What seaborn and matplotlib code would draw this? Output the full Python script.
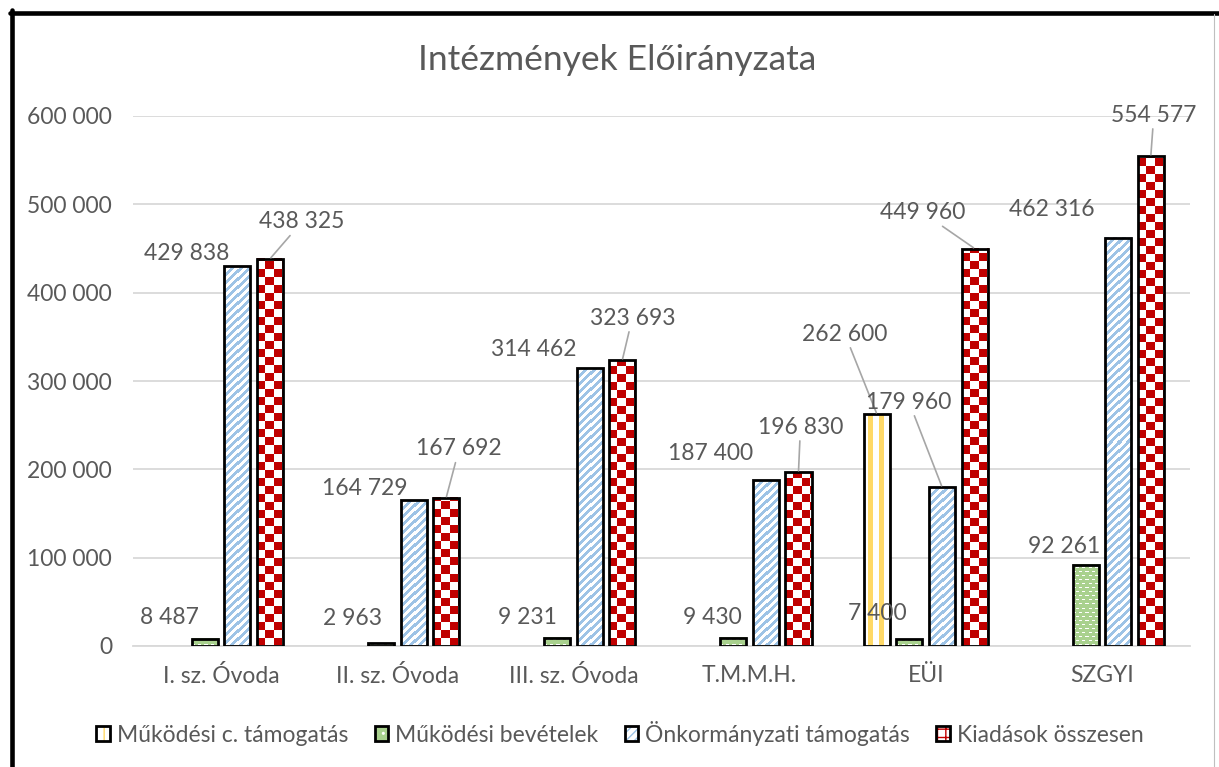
import numpy as np
import pandas as pd
import matplotlib
matplotlib.use("Agg")
import matplotlib.pyplot as plt
import seaborn as sns
from matplotlib.patches import Patch
from matplotlib.lines import Line2D
from matplotlib.colors import to_rgb

# ---------------- data ----------------
categories = ["I. sz. Óvoda", "II. sz. Óvoda", "III. sz. Óvoda", "T.M.M.H.", "EÜI", "SZGYI"]
series = ["Működési c. támogatás", "Működési bevételek", "Önkormányzati támogatás", "Kiadások összesen"]
mukodesi_c_tamogatas = [np.nan, np.nan, np.nan, np.nan, 262600, np.nan]
mukodesi_bevetelek = [8487, 2963, 9231, 9430, 7400, 92261]
onkormanyzati_tamogatas = [429838, 164729, 314462, 187400, 179960, 462316]
kiadasok_osszesen = [438325, 167692, 323693, 196830, 449960, 554577]
y_ticks = [0, 100000, 200000, 300000, 400000, 500000, 600000]
title = "Intézmények Előirányzata"

# ---------------- styles ----------------
colors = ["#FFD966", "#A9D18E", "#9DC3E6", "#C00000"]
text_color = "#595959"
grid_color = "#D9D9D9"
fs = 16.5
# label offsets in pixels (dx, dy, leader line) per series / category
label_pos = [
    [None, None, None, None, (-32, 80, True), None],
    [(-35, 21, False), (-28, 25, False), (-30, 20, False), (-21, 20, False), (-32, 26, False), (-21, 18, False)],
    [(-51, 13, False), (-49, 12, False), (-56, 19, False), (-55, 27, False), (-33, 85, True), (-66, 28, False)],
    [(32, 37, True), (13, 49, True), (10, 42, True), (2, 45, True), (-52, 36, True), (3, 41, True)],
]

sns.set_style("white")
plt.rcParams["font.family"] = ["Lato", "DejaVu Sans"]

values = [mukodesi_c_tamogatas, mukodesi_bevetelek, onkormanyzati_tamogatas, kiadasok_osszesen]
rows = []
for s, vals in zip(series, values):
    for c, v in zip(categories, vals):
        if not (isinstance(v, float) and np.isnan(v)):
            rows.append({"cat": c, "ser": s, "val": v})
df = pd.DataFrame(rows)

W, H = 1219, 767
fig = plt.figure(figsize=(W / 100, H / 100), dpi=100)
ax = fig.add_axes([133 / W, 1 - 646 / H, (1190 - 133) / W, (646 - 116) / H])

group_width = 0.74
sns.barplot(data=df, x="cat", y="val", hue="ser", order=categories, hue_order=series,
            palette=colors, width=group_width, gap=0.2, dodge=True, legend=False,
            saturation=1, errorbar=None, ax=ax)

ax.set_xlim(-0.5, len(categories) - 0.5)
ax.set_ylim(0, 600000)


def fmt(v):
    return f"{int(v):,}".replace(",", " ")


def texture(kind, w, h):
    yy, xx = np.mgrid[0:h, 0:w]
    yb = h - 1 - yy
    img = np.ones((h, w, 3))
    if kind == 0:
        mask = ((xx + 6) % 10) < 5
        img[mask] = to_rgb(colors[0])
    elif kind == 1:
        img[:] = to_rgb(colors[1])
        mask = (yb % 4 == 1) & (((xx + 3 * ((yb // 4) % 2)) % 6) < 3)
        img[mask] = (1, 1, 1)
    elif kind == 2:
        mask = ((xx + yy) % 8) < 4
        img[mask] = to_rgb(colors[2])
    else:
        mask = ((xx // 8 + yb // 8) % 2) == 0
        img[mask] = to_rgb(colors[3])
    return img


slot = group_width / len(series)
bars = [p for p in ax.patches]
for p in bars:
    x0 = p.get_x()
    w = p.get_width()
    h = p.get_height()
    if not np.isfinite(h) or h <= 0:
        continue
    xc = x0 + w / 2
    ci = int(round(xc))
    si = int(round((xc - ci) / slot + (len(series) - 1) / 2))
    disp = ax.transData.transform([[x0, 0], [x0 + w, h]])
    pw = max(1, int(round(disp[1, 0] - disp[0, 0])))
    ph = max(1, int(round(disp[1, 1] - disp[0, 1])))
    ax.imshow(texture(si, pw, ph), extent=(x0, x0 + w, 0, h), origin="upper",
              aspect="auto", interpolation="nearest", zorder=2)
    p.set_facecolor("none")
    p.set_edgecolor("black")
    p.set_linewidth(2.0)
    p.set_zorder(3)
    lp = label_pos[si][ci]
    if lp is not None:
        dx, dy, leader = lp
        kw = {}
        if leader:
            kw["arrowprops"] = dict(arrowstyle="-", color="#A6A6A6", lw=1.2,
                                    shrinkA=0, shrinkB=1)
        ax.annotate(fmt(h), xy=(xc, h), xytext=(dx, dy), textcoords="offset pixels",
                    ha="center", va="center", fontsize=fs, color=text_color,
                    annotation_clip=False, zorder=5, **kw)

ax.set_xlim(-0.5, len(categories) - 0.5)
ax.set_ylim(0, 600000)

ax.set_yticks(y_ticks)
ax.set_yticklabels([fmt(t) for t in y_ticks])
ax.set_xlabel("")
ax.set_ylabel("")
ax.tick_params(axis="both", length=0, labelcolor=text_color, labelsize=fs)
ax.tick_params(axis="y", pad=15)
ax.tick_params(axis="x", pad=14)
for s in ["top", "right", "left"]:
    ax.spines[s].set_visible(False)
ax.spines["bottom"].set_color(grid_color)
ax.spines["bottom"].set_linewidth(1.3)
ax.yaxis.grid(True, color=grid_color, lw=1.3)
ax.xaxis.grid(False)
ax.set_axisbelow(True)

fig.text(617 / W, 1 - 60 / H, title, ha="center", va="center", fontsize=25.5, color=text_color)

# legend
hatches = ["||", "..", "////", "++"]
fills = ["white", colors[1], "white", "white"]
hcols = [colors[0], "white", colors[2], colors[3]]
handles = []
for f, hc, ht in zip(fills, hcols, hatches):
    handles.append((Patch(facecolor=f, edgecolor=hc, hatch=ht, lw=0),
                    Patch(facecolor="none", edgecolor="black", lw=2.0)))
fig.legend(handles, series, loc="center", bbox_to_anchor=(620 / W, 1 - 733 / H), ncol=4,
           frameon=False, fontsize=fs, handlelength=0.6, handleheight=0.6,
           handletextpad=0.3, columnspacing=1.15, labelcolor=text_color)

# chart border
fig.add_artist(Line2D([11.5 / W, 11.5 / W], [0, 1 - 10 / H], color="black", lw=3.3))
fig.add_artist(Line2D([10 / W, 1], [1 - 12.5 / H, 1 - 12.5 / H], color="black", lw=3.3))
fig.add_artist(Line2D([1213.5 / W, 1213.5 / W], [0, 1 - 14 / H], color="#BFBFBF", lw=0.8))

fig.savefig("out.png", dpi=100)
